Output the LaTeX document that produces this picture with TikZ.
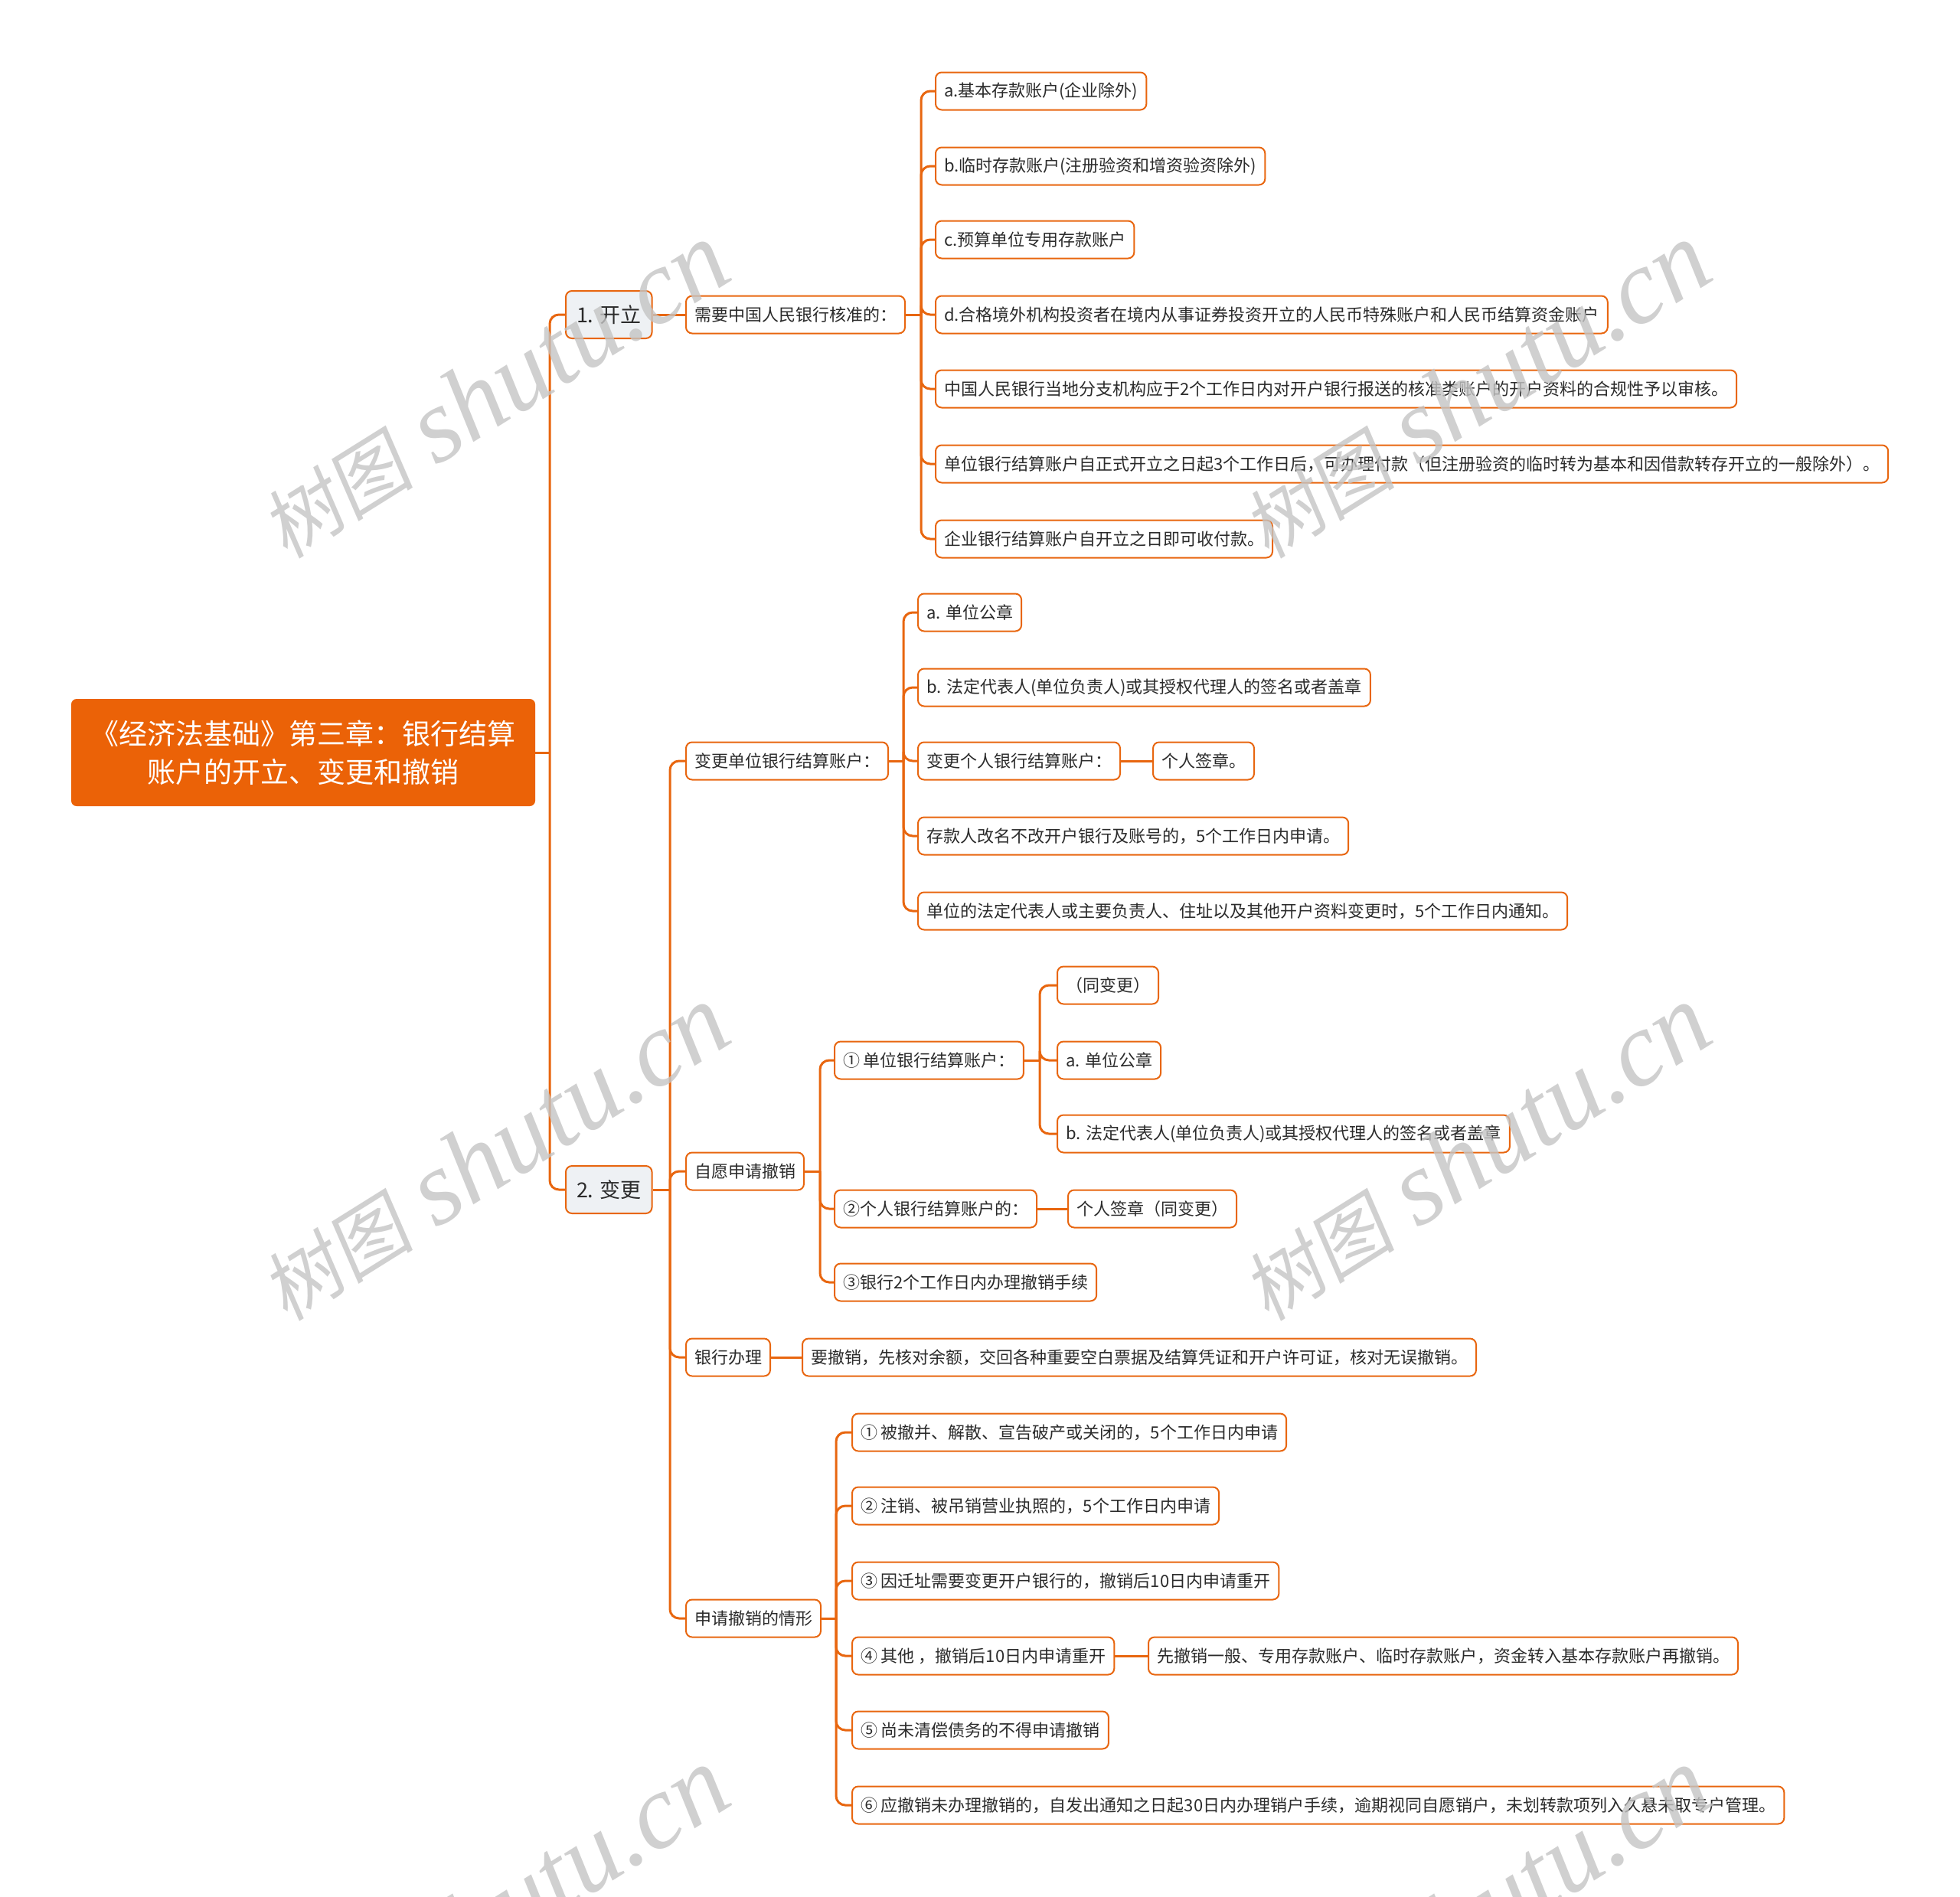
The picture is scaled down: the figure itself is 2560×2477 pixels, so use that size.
\documentclass[tikz,border=0pt]{standalone}
\usepackage{fontspec}
\newfontfamily\cjk{Noto Sans CJK SC}
\newfontfamily\wmcjk[FakeSlant=0.15]{Noto Sans CJK SC}
\newfontfamily\wmlat{Liberation Serif}
\pgfdeclarelayer{bg}
\pgfsetlayers{bg,main}
\definecolor{org}{HTML}{E8660F}
\definecolor{rootfill}{HTML}{EB6207}
\definecolor{lvfill}{HTML}{EEF1F4}
\definecolor{txt}{HTML}{2B2B2B}
\definecolor{wm}{HTML}{C4C4C4}
\begin{document}
\begin{tikzpicture}[x=1pt,y=-1pt,
  leaf/.style={draw=org, line width=2pt, fill=white, rounded corners=8pt,
    font=\cjk\fontsize{22}{26}\selectfont, text=txt, inner xsep=11pt, inner ysep=0pt,
    minimum height=49pt, anchor=west},
  lvone/.style={leaf, fill=lvfill, font=\cjk\fontsize{27}{30}\selectfont,
    minimum height=62pt, inner xsep=14pt},
  rootbox/.style={fill=rootfill, rounded corners=7pt, text=white,
    font=\cjk\fontsize{37}{50}\selectfont, align=center,
    minimum width=606pt, minimum height=140pt, inner sep=0pt},
  conn/.style={draw=org, line width=3pt, rounded corners=12pt},
  wmark/.style={text=wm, text opacity=0.8, rotate=32, inner sep=0pt}
]
\useasboundingbox (0,0) rectangle (2560,2477);

% root
\node[rootbox] (root) at (396,983) {《经济法基础》第三章：银行结算\\账户的开立、变更和撤销};

% level 1
\node[lvone] (k1) at (738,411) {1. 开立};
\node[lvone] (k2) at (738,1554) {2. 变更};

% 1. 开立
\node[leaf] (n1) at (895,411) {需要中国人民银行核准的：};
\node[leaf] (a1) at (1221,119) {a.基本存款账户(企业除外)};
\node[leaf] (a2) at (1221,217) {b.临时存款账户(注册验资和增资验资除外)};
\node[leaf] (a3) at (1221,313) {c.预算单位专用存款账户};
\node[leaf] (a4) at (1221,411) {d.合格境外机构投资者在境内从事证券投资开立的人民币特殊账户和人民币结算资金账户};
\node[leaf] (a5) at (1221,508) {中国人民银行当地分支机构应于2个工作日内对开户银行报送的核准类账户的开户资料的合规性予以审核。};
\node[leaf] (a6) at (1221,606) {单位银行结算账户自正式开立之日起3个工作日后，可办理付款（但注册验资的临时转为基本和因借款转存开立的一般除外）。};
\node[leaf] (a7) at (1221,704) {企业银行结算账户自开立之日即可收付款。};

% 2. 变更
\node[leaf] (m1) at (895,994) {变更单位银行结算账户：};
\node[leaf] (m2) at (895,1530) {自愿申请撤销};
\node[leaf] (m3) at (895,1773) {银行办理};
\node[leaf] (m4) at (895,2114) {申请撤销的情形};

% 变更单位银行结算账户
\node[leaf] (b1) at (1198,800) {a. 单位公章};
\node[leaf] (b2) at (1198,898) {b. 法定代表人(单位负责人)或其授权代理人的签名或者盖章};
\node[leaf] (b3) at (1198,994) {变更个人银行结算账户：};
\node[leaf] (b3a) at (1505,994) {个人签章。};
\node[leaf] (b4) at (1198,1092) {存款人改名不改开户银行及账号的，5个工作日内申请。};
\node[leaf] (b5) at (1198,1190) {单位的法定代表人或主要负责人、住址以及其他开户资料变更时，5个工作日内通知。};

% 自愿申请撤销
\node[leaf] (c1) at (1089,1385) {① 单位银行结算账户：};
\node[leaf] (c1a) at (1380,1287) {（同变更）};
\node[leaf] (c1b) at (1380,1385) {a. 单位公章};
\node[leaf] (c1c) at (1380,1481) {b. 法定代表人(单位负责人)或其授权代理人的签名或者盖章};
\node[leaf] (c2) at (1089,1579) {②个人银行结算账户的：};
\node[leaf] (c2a) at (1394,1579) {个人签章（同变更）};
\node[leaf] (c3) at (1089,1675) {③银行2个工作日内办理撤销手续};

% 银行办理
\node[leaf] (d1) at (1047,1773) {要撤销，先核对余额，交回各种重要空白票据及结算凭证和开户许可证，核对无误撤销。};

% 申请撤销的情形
\node[leaf] (e1) at (1112,1871) {① 被撤并、解散、宣告破产或关闭的，5个工作日内申请};
\node[leaf] (e2) at (1112,1967) {② 注销、被吊销营业执照的，5个工作日内申请};
\node[leaf] (e3) at (1112,2065) {③ 因迁址需要变更开户银行的，撤销后10日内申请重开};
\node[leaf] (e4) at (1112,2163) {④ 其他 ，撤销后10日内申请重开};
\node[leaf] (e4a) at (1499,2163) {先撤销一般、专用存款账户、临时存款账户，资金转入基本存款账户再撤销。};
\node[leaf] (e5) at (1112,2260) {⑤ 尚未清偿债务的不得申请撤销};
\node[leaf] (e6) at (1112,2358) {⑥ 应撤销未办理撤销的，自发出通知之日起30日内办理销户手续，逾期视同自愿销户，未划转款项列入久悬未取专户管理。};

% trunk coordinates
\coordinate (t0) at (718,0);
\coordinate (t1) at (1203,0);
\coordinate (t2) at (875,0);
\coordinate (t3) at (1180,0);
\coordinate (t4) at (1071,0);
\coordinate (t5) at (1358,0);
\coordinate (t6) at (1092,0);

\begin{pgfonlayer}{bg}
  \draw[conn] (root.east) -- (root.east -| t0);
  \foreach \c in {k1,k2} \draw[conn] (root.east -| t0) |- (\c.west);
  \draw[conn] (k1.east) -- (n1.west);
  \draw[conn] (n1.east) -- (n1.east -| t1);
  \foreach \c in {a1,a2,a3,a4,a5,a6,a7} \draw[conn] (n1.east -| t1) |- (\c.west);
  \draw[conn] (k2.east) -- (k2.east -| t2);
  \foreach \c in {m1,m2,m3,m4} \draw[conn] (k2.east -| t2) |- (\c.west);
  \draw[conn] (m1.east) -- (m1.east -| t3);
  \foreach \c in {b1,b2,b3,b4,b5} \draw[conn] (m1.east -| t3) |- (\c.west);
  \draw[conn] (b3.east) -- (b3a.west);
  \draw[conn] (m2.east) -- (m2.east -| t4);
  \foreach \c in {c1,c2,c3} \draw[conn] (m2.east -| t4) |- (\c.west);
  \draw[conn] (c1.east) -- (c1.east -| t5);
  \foreach \c in {c1a,c1b,c1c} \draw[conn] (c1.east -| t5) |- (\c.west);
  \draw[conn] (c2.east) -- (c2a.west);
  \draw[conn] (m3.east) -- (d1.west);
  \draw[conn] (m4.east) -- (m4.east -| t6);
  \foreach \c in {e1,e2,e3,e4,e5,e6} \draw[conn] (m4.east -| t6) |- (\c.west);
  \draw[conn] (e4.east) -- (e4a.west);
\end{pgfonlayer}

% watermarks
\foreach \wx/\wy [count=\i] in {645/510, 1927/510, 645/1506, 1927/1506, 645/2502, 1927/2502}
  \node[wmark] (w\i) at (\wx,\wy) {\wmcjk\fontsize{100}{100}\selectfont 树图\hspace{30pt}\wmlat\itshape\fontsize{138}{138}\selectfont shutu.cn};
\end{tikzpicture}
\end{document}
